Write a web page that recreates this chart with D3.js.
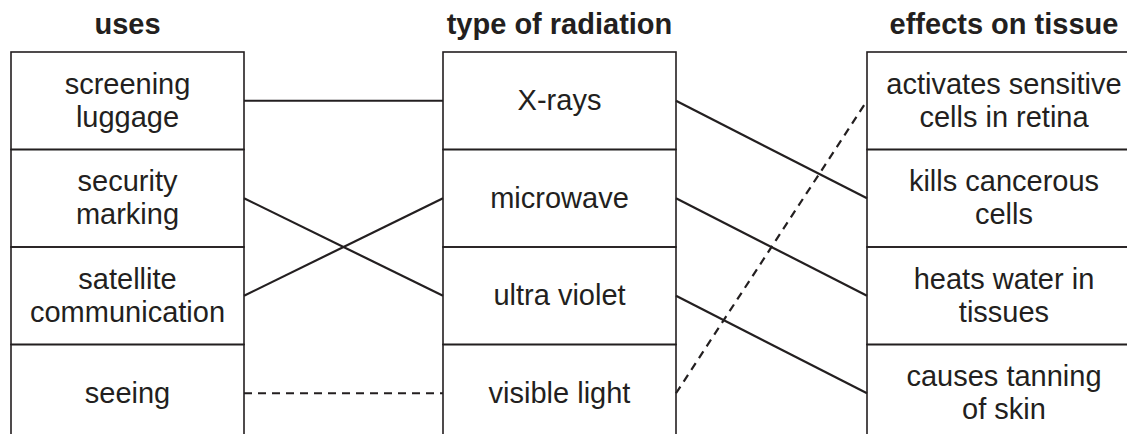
<!DOCTYPE html>
<html>
<head>
<meta charset="utf-8">
<script src="https://cdn.jsdelivr.net/npm/d3@7"></script>
<style>
  body { margin: 0; background: #fff; }
  text { font-family: "Liberation Sans", Arial, Helvetica, sans-serif; fill: #231f20; }
</style>
</head>
<body>
<script>
const width = 1127;
const height = 434;

// les trois colonnes
const headers = ['uses', 'type of radiation', 'effects on tissue'];
const uses = [['screening', 'luggage'], ['security', 'marking'], ['satellite', 'communication'], ['seeing']];
const types = [['X-rays'], ['microwave'], ['ultra violet'], ['visible light']];
const effects = [['activates sensitive', 'cells in retina'], ['kills cancerous', 'cells'], ['heats water in', 'tissues'], ['causes tanning', 'of skin']];

// liens : [colonne de départ, ligne de départ, ligne d'arrivée, pointillé ?]
const links = [
    [0, 0, 0, false],
    [0, 1, 2, false],
    [0, 2, 1, false],
    [0, 3, 3, true],
    [1, 0, 1, false],
    [1, 1, 2, false],
    [1, 2, 3, false],
    [1, 3, 0, true],
];

const columns = [uses, types, effects];

const colLeft = [11, 443, 867];
const colWidth = [233, 233, 274];

const y = d3.scaleLinear().domain([0, 4]).range([52, 442]);
const rowMid = i => (y(i) + y(i + 1)) / 2;

const svg = d3.select('body').append('svg')
    .attr('width', width)
    .attr('height', height);

const INK = '#231f20';

// titres
svg.selectAll('text.header')
    .data(headers)
    .enter()
    .append('text')
    .attr('class', 'header')
    .attr('x', (d, i) => colLeft[i] + colWidth[i] / 2)
    .attr('y', 34)
    .attr('text-anchor', 'middle')
    .attr('font-weight', 'bold')
    .attr('font-size', 29)
    .text(d => d);

// les boîtes
columns.forEach((col, c) => {
    const g = svg.append('g');
    g.selectAll('rect')
        .data(col)
        .enter()
        .append('rect')
        .attr('x', colLeft[c])
        .attr('y', (d, i) => y(i))
        .attr('width', colWidth[c])
        .attr('height', y(1) - y(0))
        .attr('fill', 'none')
        .attr('stroke', INK)
        .attr('stroke-width', 1.6);

    const txt = g.selectAll('text')
        .data(col)
        .enter()
        .append('text')
        .attr('text-anchor', 'middle')
        .attr('font-size', 29);

    txt.selectAll('tspan')
        .data((d, i) => d.map((line, k) => ({ line, k, n: d.length, i })))
        .enter()
        .append('tspan')
        .attr('x', colLeft[c] + colWidth[c] / 2)
        .attr('y', d => rowMid(d.i) + 9.5 + (d.k - (d.n - 1) / 2) * 33)
        .text(d => d.line);
});

// les traits entre les colonnes
svg.append('g').selectAll('line')
    .data(links)
    .enter()
    .append('line')
    .attr('x1', d => colLeft[d[0]] + colWidth[d[0]])
    .attr('y1', d => rowMid(d[1]))
    .attr('x2', d => colLeft[d[0] + 1])
    .attr('y2', d => rowMid(d[2]))
    .attr('stroke', INK)
    .attr('stroke-width', 2.2)
    .attr('stroke-dasharray', d => d[3] ? '8,6' : null);
</script>
</body>
</html>
